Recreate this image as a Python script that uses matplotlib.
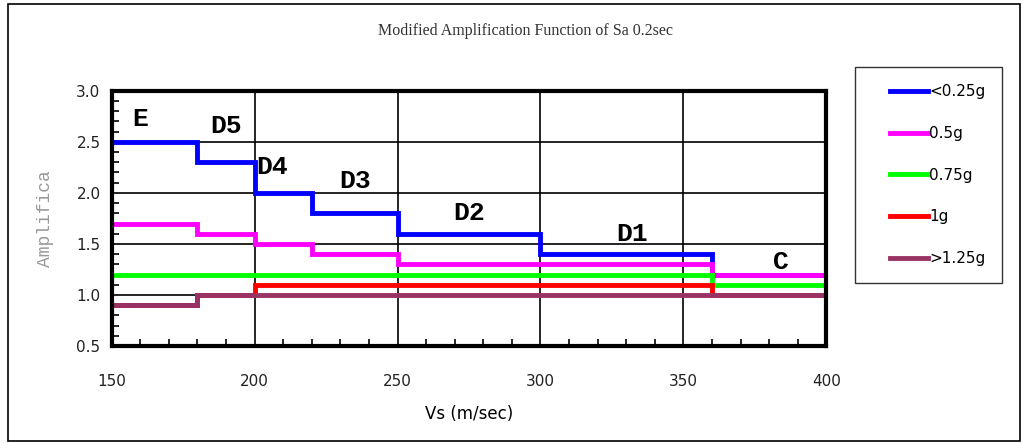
import matplotlib.pyplot as plt
from matplotlib.patches import Rectangle
from matplotlib.legend_handler import HandlerLine2D
from matplotlib.lines import Line2D

# step boundaries (Vs, m/sec)
vs_edges = [150, 180, 200, 220, 250, 300, 360, 400]

# amplification per interval, one list per intensity level
amp_025 = [2.5, 2.3, 2.0, 1.8, 1.6, 1.4, 1.2]
amp_050 = [1.7, 1.6, 1.5, 1.4, 1.3, 1.3, 1.2]
amp_075 = [1.2, 1.2, 1.2, 1.2, 1.2, 1.2, 1.1]
amp_100 = [0.9, 1.0, 1.1, 1.1, 1.1, 1.1, 1.0]
amp_125 = [0.9, 1.0, 1.0, 1.0, 1.0, 1.0, 1.0]

series_labels = ['<0.25g', '0.5g', '0.75g', '1g', '>1.25g']
series_colors = ['#0000FF', '#FF00FF', '#00FF00', '#FF0000', '#993366']

# site class labels
class_names = ['E', 'D5', 'D4', 'D3', 'D2', 'D1', 'C']
class_x = [160, 190, 206, 235, 275, 332, 384]
class_y = [2.72, 2.66, 2.25, 2.12, 1.80, 1.60, 1.32]

fig = plt.figure(figsize=(10.24, 4.43), dpi=100)
ax = fig.add_axes([0.109, 0.219, 0.698, 0.576])

# border around the whole chart
fig.patches.append(Rectangle((0.008, 0.005), 0.988, 0.985, transform=fig.transFigure,
                             fill=False, edgecolor='black', linewidth=1.2))

handles = []
for vals, lab, col in zip([amp_025, amp_050, amp_075, amp_100, amp_125],
                          series_labels, series_colors):
    ax.stairs(vals, vs_edges, baseline=None, color=col, linewidth=3.5)
    handles.append(Line2D([], [], color=col, linewidth=3.5, label=lab))

for name, x, y in zip(class_names, class_x, class_y):
    ax.text(x, y, name, family='Liberation Mono', fontweight='bold', fontsize=19,
            ha='center', va='center')

ax.set_xlim(150, 400)
ax.set_ylim(0.5, 3.0)
ax.set_xticks([150, 200, 250, 300, 350, 400])
ax.set_yticks([0.5, 1.0, 1.5, 2.0, 2.5, 3.0])
ax.set_yticklabels(['0.5', '1.0', '1.5', '2.0', '2.5', '3.0'])
ax.set_xticks(range(150, 401, 10), minor=True)
ax.set_yticks([0.5 + 0.1 * i for i in range(26)], minor=True)
ax.tick_params(which='both', direction='in', color='black', labelsize=11,
               labelcolor='#222222')
ax.tick_params(which='major', length=0)
ax.tick_params(axis='x', which='major', pad=20)
ax.tick_params(axis='y', which='major', pad=8)
ax.tick_params(which='minor', length=5, width=1.2)
ax.grid(True, which='major', color='black', linewidth=1.2)
ax.set_axisbelow(True)
for s in ax.spines.values():
    s.set_linewidth(3)

ax.set_xlabel('Vs (m/sec)', fontsize=12, labelpad=12)
ax.set_ylabel('Amplifica', family='Liberation Mono', fontsize=13, color='#999999',
              labelpad=16)
fig.text(0.513, 0.93, 'Modified Amplification Function of Sa 0.2sec',
         ha='center', va='center', family='Liberation Serif', fontsize=11.5,
         color='#333333')

leg = fig.legend(handles=handles, loc='upper left', bbox_to_anchor=(0.835, 0.848),
                 frameon=True, fancybox=False, edgecolor='black', fontsize=11,
                 handlelength=3.67, handletextpad=0.1, labelspacing=1.75,
                 borderpad=1.1, borderaxespad=0,
                 handler_map={Line2D: HandlerLine2D(xpad=1.18)})
leg.get_frame().set_linewidth(1.0)

fig.savefig('out.png', dpi=100)
